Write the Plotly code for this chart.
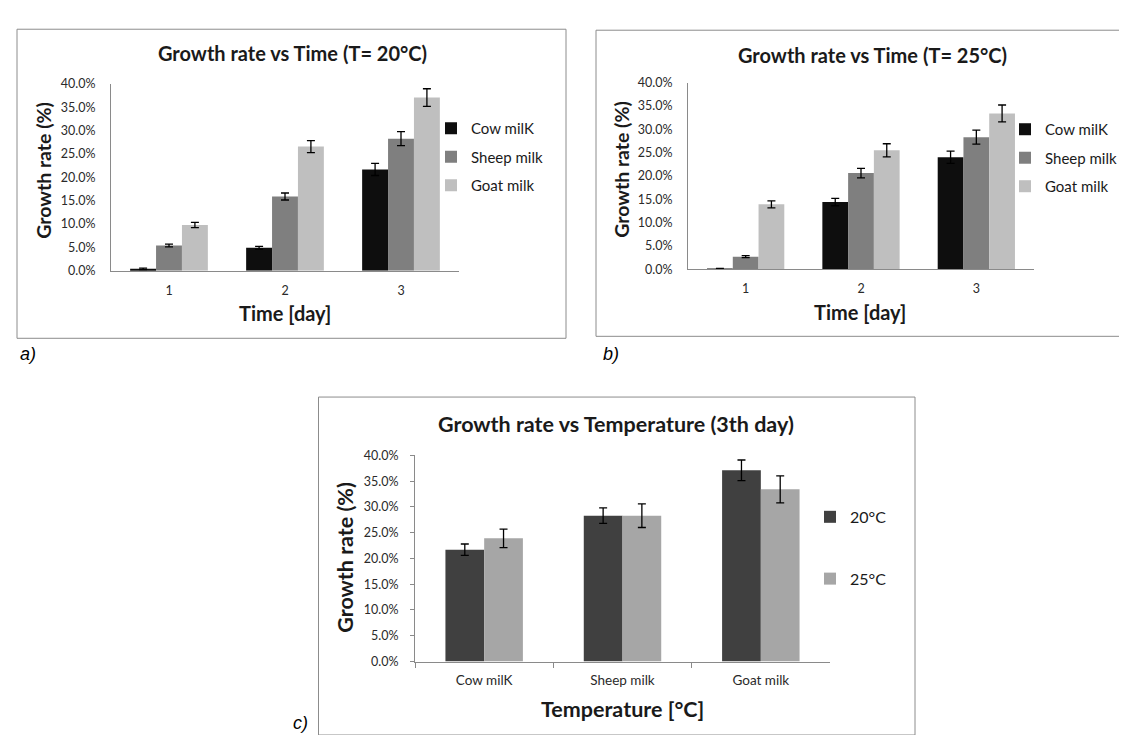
import plotly.graph_objects as go

W, H = 1127, 735

# ---------------- data ----------------
days = ["1", "2", "3"]
series_names = ["Cow milK", "Sheep milk", "Goat milk"]

# Panel a: T = 20 °C  (growth rate, %)
cow_20 = [0.4, 4.9, 21.7]
sheep_20 = [5.4, 15.9, 28.3]
goat_20 = [9.8, 26.6, 37.1]
cow_20_err = [0.15, 0.3, 1.3]
sheep_20_err = [0.3, 0.75, 1.5]
goat_20_err = [0.55, 1.3, 1.9]

# Panel b: T = 25 °C
cow_25 = [0.1, 14.4, 24.0]
sheep_25 = [2.7, 20.6, 28.3]
goat_25 = [13.9, 25.5, 33.4]
cow_25_err = [0.05, 0.8, 1.3]
sheep_25_err = [0.2, 1.0, 1.5]
goat_25_err = [0.75, 1.4, 1.8]

# Panel c: 3rd day, by milk type
milks = ["Cow milK", "Sheep milk", "Goat milk"]
temp_names = ["20°C", "25°C"]
day3_20 = [21.7, 28.3, 37.1]
day3_25 = [23.9, 28.3, 33.4]
day3_20_err = [1.1, 1.5, 2.0]
day3_25_err = [1.8, 2.3, 2.6]

yticks = [0, 5, 10, 15, 20, 25, 30, 35, 40]
ytick_labels = ["0.0%", "5.0%", "10.0%", "15.0%", "20.0%", "25.0%", "30.0%", "35.0%", "40.0%"]

# ---------------- style ----------------
FONT = "Lato"
AX_COL = "#8a8a8a"
TXT = "#1a1a1a"
abc_colors = ["#0e0e0e", "#7f7f7f", "#bfbfbf"]
c_colors = ["#404040", "#a6a6a6"]


def px(x):
    return x / W


def py(y):
    return 1 - y / H


fig = go.Figure()


def err(arr):
    return dict(type="data", array=arr, visible=True, color="black", thickness=1.3, width=4)


# Panel a
for name, vals, e, col in zip(series_names, [cow_20, sheep_20, goat_20],
                              [cow_20_err, sheep_20_err, goat_20_err], abc_colors):
    fig.add_trace(go.Bar(x=days, y=vals, name=name, marker=dict(color=col, line=dict(width=0)),
                         error_y=err(e), xaxis="x", yaxis="y", legend="legend",
                         legendgroup="a" + name))
# Panel b
for name, vals, e, col in zip(series_names, [cow_25, sheep_25, goat_25],
                              [cow_25_err, sheep_25_err, goat_25_err], abc_colors):
    fig.add_trace(go.Bar(x=days, y=vals, name=name, marker=dict(color=col, line=dict(width=0)),
                         error_y=err(e), xaxis="x2", yaxis="y2", legend="legend2",
                         legendgroup="b" + name))
# Panel c
for i, (name, vals, e, col) in enumerate(zip(temp_names, [day3_20, day3_25],
                                             [day3_20_err, day3_25_err], c_colors)):
    fig.add_trace(go.Bar(x=milks, y=vals, name=name, marker=dict(color=col, line=dict(width=0)),
                         error_y=err(e), xaxis="x3", yaxis="y3", legend="legend3",
                         legendgroup="c" + name, width=0.28, offset=-0.28 + 0.28 * i))

tickfont = dict(family=FONT, size=12.5, color="#2a2a2a")

yax_common = dict(range=[0, 40], tickvals=yticks, ticktext=ytick_labels,
                  showgrid=False, zeroline=False, showline=True, linecolor=AX_COL, linewidth=1,
                  tickfont=tickfont, fixedrange=True)
xax_common = dict(type="category", showgrid=False, zeroline=False, showline=True,
                  linecolor=AX_COL, linewidth=1)

fig.update_layout(
    width=W, height=H,
    margin=dict(l=0, r=0, t=0, b=0),
    paper_bgcolor="white", plot_bgcolor="white",
    barmode="group", bargap=0.33, bargroupgap=0,
    font=dict(family=FONT, color=TXT),
    xaxis=dict(domain=[px(103), px(451)], anchor="y", ticks="", ticklabelstandoff=8,
               tickfont=dict(family=FONT, size=12.5, color="#2a2a2a"), **xax_common),
    yaxis=dict(domain=[py(260), py(69.5)], anchor="x", ticks="", ticklabelstandoff=12, **yax_common),
    xaxis2=dict(domain=[px(680), px(1026)], anchor="y2", ticks="", ticklabelstandoff=8,
                tickfont=dict(family=FONT, size=12.5, color="#2a2a2a"), **xax_common),
    yaxis2=dict(domain=[py(258.5), py(68)], anchor="x2", ticks="", ticklabelstandoff=12, **yax_common),
    xaxis3=dict(domain=[px(407), px(822)], anchor="y3", ticks="outside", ticklen=5,
                tickcolor=AX_COL, tickson="boundaries", ticklabelstandoff=6,
                tickfont=dict(family=FONT, size=13.5, color="#2a2a2a"), **xax_common),
    yaxis3=dict(domain=[py(659), py(448.5)], anchor="x3", ticks="outside", ticklen=4,
                tickcolor=AX_COL, ticklabelstandoff=9, **yax_common),
    legend=dict(x=px(423), y=py(98), xanchor="left", yanchor="top",
                font=dict(family=FONT, size=15, color=TXT), tracegroupgap=6,
                bgcolor="rgba(0,0,0,0)", itemclick=False, itemdoubleclick=False),
    legend2=dict(x=px(997), y=py(99), xanchor="left", yanchor="top",
                 font=dict(family=FONT, size=15, color=TXT), tracegroupgap=6,
                 bgcolor="rgba(0,0,0,0)", itemclick=False, itemdoubleclick=False),
    legend3=dict(x=px(802), y=py(494), xanchor="left", yanchor="top",
                 font=dict(family=FONT, size=16, color=TXT), tracegroupgap=38,
                 bgcolor="rgba(0,0,0,0)", itemclick=False, itemdoubleclick=False),
)

# frames around each chart
frame = dict(type="rect", xref="paper", yref="paper", line=dict(color="#8c8c8c", width=1),
             fillcolor="rgba(0,0,0,0)", layer="below")
fig.add_shape(x0=px(9), x1=px(558), y0=py(329), y1=py(13.5), **frame)
fig.add_shape(x0=px(588), x1=px(1135), y0=py(327), y1=py(14.5), **frame)
fig.add_shape(x0=px(310.5), x1=px(907), y0=py(734), y1=py(389), **frame)


def text(x, y, s, size, bold=True, angle=0, italic=False, family=FONT, color=TXT):
    style = "italic" if italic else "normal"
    fig.add_annotation(x=px(x), y=py(y), xref="paper", yref="paper", text=s, showarrow=False,
                       xanchor="center", yanchor="middle", textangle=angle,
                       font=dict(family=family, size=size, color=color,
                                 weight="bold" if bold else "normal", style=style))


# titles
text(284, 38, "Growth rate vs Time (T= 20°C)", 20)
text(864, 40, "Growth rate vs Time (T= 25°C)", 20)
text(608, 417, "Growth rate vs Temperature (3th day)", 21.5)
# axis titles
text(36, 158, "Growth rate (%)", 19.5, angle=-90)
text(277, 303, "Time [day]", 20)
text(614, 157, "Growth rate (%)", 19.5, angle=-90)
text(852, 302, "Time [day]", 20)
text(337, 553, "Growth rate (%)", 21.5, angle=-90)
text(614, 707, "Temperature [°C]", 21.5)
# panel letters
text(20, 345, "a)", 18, bold=False, italic=True, family="Liberation Sans", color="black")
text(603, 345, "b)", 18, bold=False, italic=True, family="Liberation Sans", color="black")
text(292, 722, "c)", 18, bold=False, italic=True, family="Liberation Sans", color="black")

fig.write_html("out.html")
